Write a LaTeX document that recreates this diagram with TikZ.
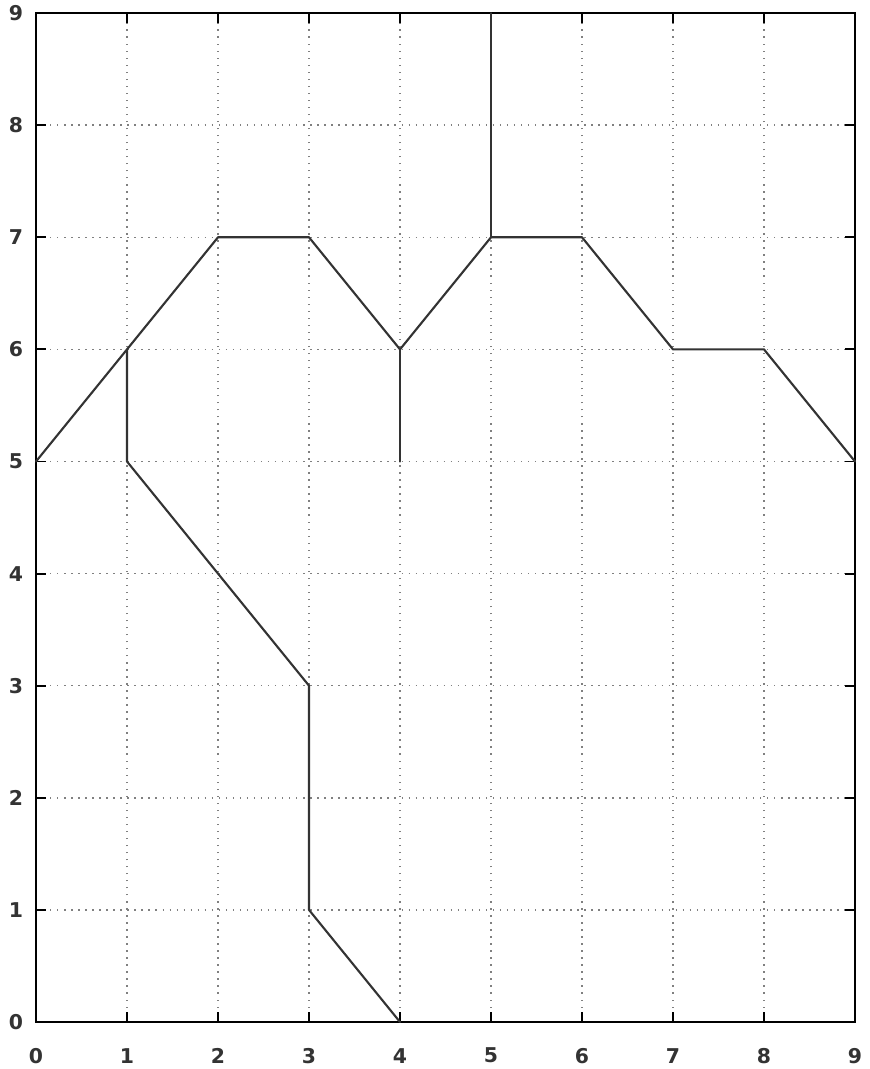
\documentclass[tikz,border=0pt]{standalone}
\usepackage{fontspec}
\setmainfont{DejaVu Sans}
\definecolor{plotline}{rgb}{0.2,0.2,0.2}
\definecolor{gridgray}{rgb}{0.5,0.5,0.5}
\tikzset{
  gridline/.style={color=gridgray, line width=1pt, dash pattern=on 1pt off 4pt},
  tickmark/.style={color=black, line width=1.3pt},
  pathseg/.style={color=plotline, line width=1.5pt, line cap=round, line join=round},
  ticklabel/.style={font=\fontsize{14.5}{17}\selectfont\bfseries, color=black!80}
}
\begin{document}
\begin{tikzpicture}[x=2.275cm, y=2.8025cm]
	\useasboundingbox (-0.9cm,-1.175cm) rectangle (20.825cm,25.55cm);
	% grid
	\foreach \i in {1,...,8} {
		\draw[gridline] (\i,0) -- (\i,9);
		\draw[gridline] (0,\i) -- (9,\i);
	}
	% ticks
	\foreach \i in {1,...,8} {
		\draw[tickmark] (\i,0) -- ++(0,0.25cm);
		\draw[tickmark] (\i,9) -- ++(0,-0.25cm);
		\draw[tickmark] (0,\i) -- ++(0.25cm,0);
		\draw[tickmark] (9,\i) -- ++(-0.25cm,0);
	}
	\foreach \i in {0,...,9} {
		\node[ticklabel] (xl\i) at (\i,-0.3) {\i};
		\node[ticklabel, anchor=east] (yl\i) at (-0.2cm,\i) {\i};
	}
	\draw[color=black, line width=1.5pt] (0,0) rectangle (9,9);

	% vertices
	\coordinate (a) at (0,5);
	\coordinate (b) at (1,6);
	\coordinate (c) at (2,7);
	\coordinate (d) at (3,7);
	\coordinate (e) at (4,6);
	\coordinate (f) at (5,7);
	\coordinate (g) at (5,9);
	\coordinate (h) at (6,7);
	\coordinate (i) at (7,6);
	\coordinate (j) at (8,6);
	\coordinate (k) at (9,5);
	\coordinate (l) at (1,5);
	\coordinate (m) at (2,4);
	\coordinate (n) at (3,3);
	\coordinate (o) at (3,1);
	\coordinate (p) at (4,0);
	\coordinate (q) at (4,5);

	\draw[pathseg] (a) -- (b) -- (c) -- (d) -- (e) -- (f) -- (h) -- (i) -- (j) -- (k);
	\draw[pathseg] (f) -- (g);
	\draw[pathseg] (b) -- (l) -- (m) -- (n) -- (o) -- (p);
	\draw[pathseg] (e) -- (q);
\end{tikzpicture}
\end{document}
